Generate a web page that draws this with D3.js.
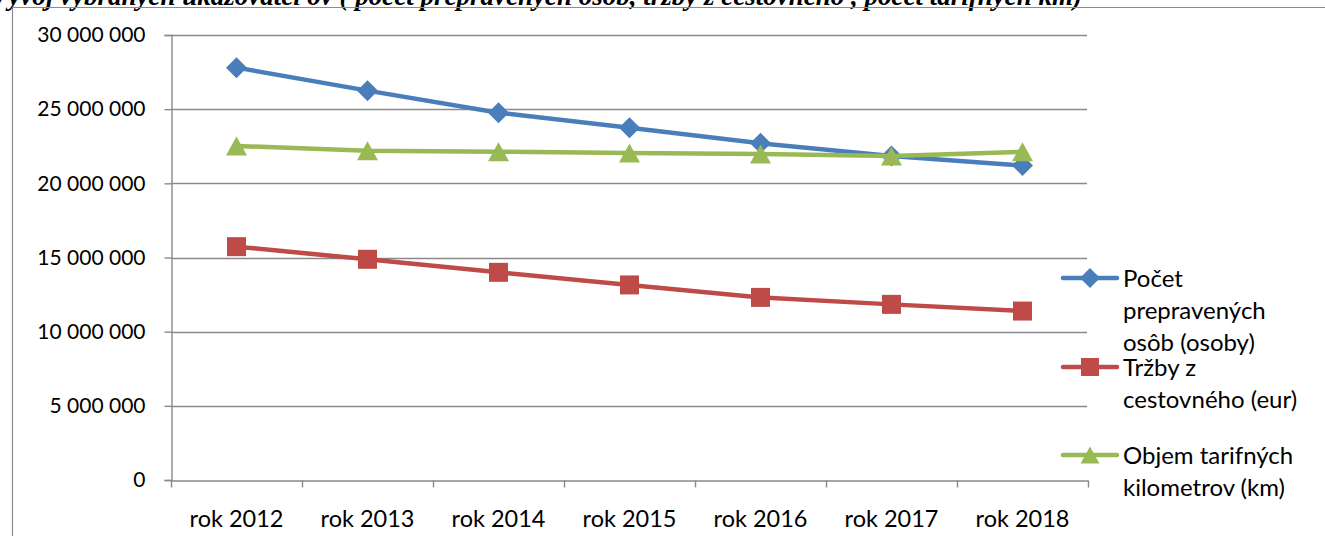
<!DOCTYPE html>
<html>
<head>
<meta charset="utf-8">
<script src="https://cdn.jsdelivr.net/npm/d3@7"></script>
<style>
  html, body { margin: 0; padding: 0; background: #fff; overflow: hidden; }
  svg { display: block; }
</style>
</head>
<body>
<svg id="chart" width="1325" height="536"></svg>
<script>
// Categories (years) and the three series
const years = ["rok 2012", "rok 2013", "rok 2014", "rok 2015", "rok 2016", "rok 2017", "rok 2018"];
const passengers = [27800000, 26250000, 24760000, 23750000, 22700000, 21850000, 21200000];
const revenue    = [15730000, 14880000, 14000000, 13150000, 12310000, 11840000, 11390000];
const tariffKm   = [22520000, 22200000, 22130000, 22050000, 21980000, 21840000, 22130000];
const yTicks = [0, 5000000, 10000000, 15000000, 20000000, 25000000, 30000000];

const seriesNames = [
  ["Počet", "prepravených", "osôb (osoby)"],
  ["Tržby z", "cestovného (eur)"],
  ["Objem tarifných", "kilometrov (km)"]
];
const title = "Vývoj vybraných ukazovateľov ( počet prepravených osôb, tržby z cestovného , počet tarifných km)";

const svg = d3.select("#chart");
const gridColor = "#8a8a8a";
const colors = ["#4a7ebb", "#be4b48", "#98b954"];
const shapes = ["diamond", "square", "triangle"];

// Title line (runs past the top edge) and outer frame
svg.append("text")
  .attr("x", 1082).attr("y", 4.5)
  .attr("text-anchor", "end")
  .style("font-family", "'Liberation Serif', 'DejaVu Serif', serif")
  .style("font-weight", "bold").style("font-style", "italic")
  .style("font-size", "27px")
  .attr("fill", "#000")
  .text(title);

svg.append("path")
  .attr("d", "M12.5,540 L12.5,7.5 L1330,7.5")
  .attr("fill", "none").attr("stroke", "#8c8c8c").attr("stroke-width", 1.2);

// Scales
const x = d3.scaleBand().domain(years).range([171, 1088]).padding(0);
const y = d3.scaleLinear().domain([0, 30000000]).range([480, 35]);

const fmt = d3.formatLocale({ decimal: ",", thousands: " ", grouping: [3], currency: ["", ""] }).format(",d");

// Horizontal gridlines
svg.append("g").selectAll("line")
  .data(yTicks.filter(d => d > 0))
  .join("line")
  .attr("x1", 171).attr("x2", 1087)
  .attr("y1", d => Math.round(y(d)) + 0.5).attr("y2", d => Math.round(y(d)) + 0.5)
  .attr("stroke", gridColor).attr("stroke-width", 1.4);

// Y axis
const yAxis = svg.append("g")
  .attr("transform", "translate(171.5,0)")
  .call(d3.axisLeft(y).tickValues(yTicks).tickFormat(fmt).tickSize(7).tickPadding(19));
yAxis.select(".domain").attr("stroke", gridColor).attr("stroke-width", 1.4);
yAxis.selectAll(".tick line").attr("stroke", gridColor).attr("stroke-width", 1.4);
yAxis.selectAll(".tick text")
  .style("font-family", "Lato, 'Open Sans', sans-serif")
  .style("font-size", "21px").attr("fill", "#000");

// X axis with tick marks at category boundaries
const xAxis = svg.append("g")
  .attr("transform", "translate(0,480.5)")
  .call(d3.axisBottom(x).tickSize(0).tickPadding(30));
xAxis.select(".domain").attr("stroke", gridColor).attr("stroke-width", 1.4);
xAxis.selectAll(".tick text")
  .style("font-family", "Lato, 'Open Sans', sans-serif")
  .style("font-size", "23.5px").attr("fill", "#000");
const boundaries = years.map(d => x(d)).concat([x(years[years.length - 1]) + x.bandwidth()]);
xAxis.append("g").selectAll("line")
  .data(boundaries)
  .join("line")
  .attr("x1", d => Math.round(d) + 0.5).attr("x2", d => Math.round(d) + 0.5)
  .attr("y1", 0).attr("y2", 7)
  .attr("stroke", gridColor).attr("stroke-width", 1.4);

// Marker path centred on (0,0)
function markerPath(shape, r) {
  if (shape === "diamond") return `M0,${-r} L${r},0 L0,${r} L${-r},0 Z`;
  if (shape === "square") return `M${-r},${-r} H${r} V${r} H${-r} Z`;
  return `M0,${-r * 0.95} L${r * 1.05},${r * 0.95} L${-r * 1.05},${r * 0.95} Z`;
}

const line = d3.line().x((d, i) => x(years[i]) + x.bandwidth() / 2).y(d => y(d));
const allSeries = [passengers, revenue, tariffKm];

allSeries.forEach((vals, s) => {
  const g = svg.append("g");
  g.append("path")
    .datum(vals)
    .attr("d", line)
    .attr("fill", "none")
    .attr("stroke", colors[s])
    .attr("stroke-width", 4.5)
    .attr("stroke-linejoin", "round")
    .attr("stroke-linecap", "round");
  g.selectAll("path.m")
    .data(vals)
    .join("path")
    .attr("class", "m")
    .attr("transform", (d, i) => `translate(${x(years[i]) + x.bandwidth() / 2},${y(d)})`)
    .attr("d", markerPath(shapes[s], s === 0 ? 10.5 : (s === 1 ? 9.5 : 10)))
    .attr("fill", colors[s]);
});

// Legend
const legendY = [278, 367, 455];
const legend = svg.append("g");
seriesNames.forEach((lines, s) => {
  const g = legend.append("g").attr("transform", `translate(0,${legendY[s]})`);
  g.append("line")
    .attr("x1", 1063).attr("x2", 1117).attr("y1", 0).attr("y2", 0)
    .attr("stroke", colors[s]).attr("stroke-width", 4.5).attr("stroke-linecap", "round");
  g.append("path")
    .attr("transform", "translate(1090,0)")
    .attr("d", markerPath(shapes[s], s === 0 ? 10 : 9))
    .attr("fill", colors[s]);
  lines.forEach((t, k) => {
    g.append("text")
      .attr("x", 1123).attr("y", k * 32)
      .attr("dy", "0.36em")
      .style("font-family", "Lato, 'Open Sans', sans-serif")
      .style("font-size", "24px").attr("fill", "#000")
      .text(t);
  });
});
</script>
</body>
</html>
